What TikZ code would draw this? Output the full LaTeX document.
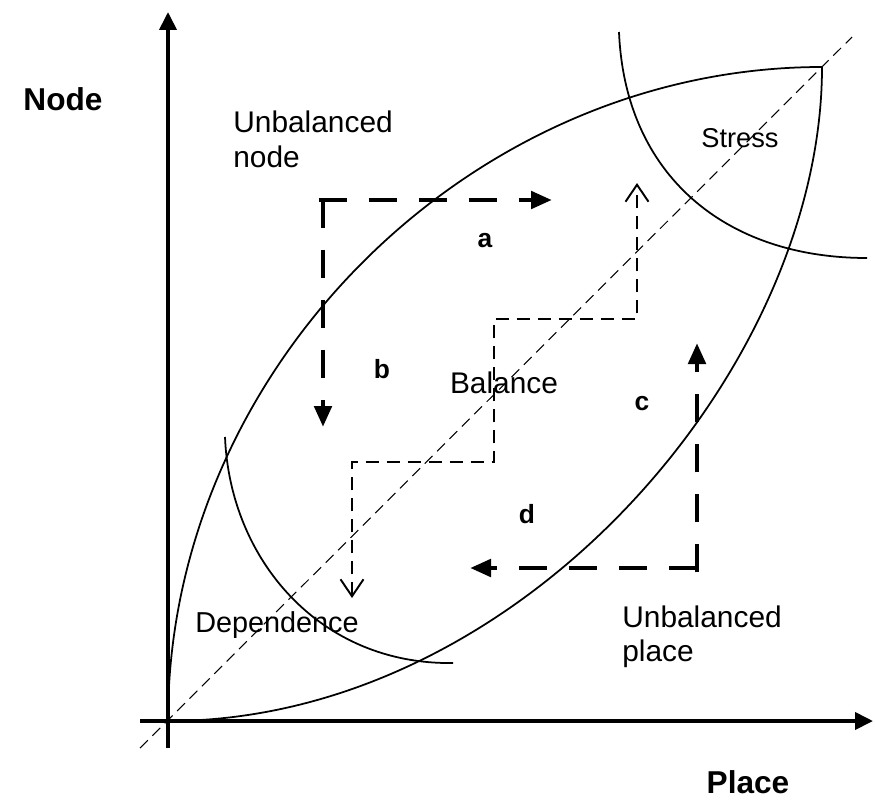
\documentclass[tikz,border=0pt]{standalone}
\usepackage{fontspec}
\setmainfont{Liberation Sans}
\usetikzlibrary{arrows.meta}
\tikzset{
  axisline/.style={line width=2.2pt, -{Triangle[length=0.36cm, width=0.34cm]}},
  zoneline/.style={line width=1pt},
  diagline/.style={line width=0.6pt, dash pattern=on 0.22cm off 0.13cm},
  %% thick dashed moves a-d
  flowarrow/.style={line width=2.8pt, dash pattern=on 0.56cm off 0.44cm,
    -{Triangle[length=0.42cm, width=0.34cm]}},
  %% thin stepped path through the balance zone
  stepline/.style={line width=1.1pt, dash pattern=on 0.26cm off 0.16cm,
    {Straight Barb[length=0.34cm, width=0.46cm]}-{Straight Barb[length=0.34cm, width=0.46cm]}},
  regionlbl/.style={font=\fontsize{17}{19.8}\selectfont, align=left, inner sep=0pt},
  axislbl/.style={font=\fontsize{18}{21}\selectfont\bfseries, inner sep=0pt},
  movelbl/.style={font=\fontsize{15}{17}\selectfont\bfseries, inner sep=0pt},
}

\begin{document}
\begin{tikzpicture}[x=0.02cm, y=-0.02cm]
\useasboundingbox (0,0) rectangle (875,801);

%% Axes
\coordinate (O)    at (168,721);
\coordinate (tip)  at (822,67);
\draw[axisline] (168,748) -- (168,12);
\draw[axisline] (140,721) -- (873,721);
\node[axislbl] (nodeAx)  at (63,99) {Node};
\node[axislbl, anchor=base] (placeAx) at (748,793) {Place};

%% Diagonal
\draw[diagline] (140,748) -- (852,37);

%% Leaf shaped zone
\draw[zoneline] (O) .. controls (168,369) and (470,67) .. (tip);
\draw[zoneline] (O) .. controls (520,721) and (822,369) .. (tip);

%% Stress and dependence arcs
\draw[zoneline] (619,32) .. controls (625,175) and (725,258) .. (867,258);
\draw[zoneline] (225,437) .. controls (230,560) and (320,665) .. (453,663);

%% Stepped path
\coordinate (stepLow)  at (352,598);
\coordinate (stepHigh) at (637,183);
\draw[stepline] (stepLow) -- (352,462) -- (494,462) -- (494,319) -- (637,319) -- (stepHigh);

%% Moves a, b
\coordinate (cornerAB) at (323,200);
\coordinate (tipA) at (552,200);
\coordinate (tipB) at (323,427);
\draw[flowarrow] ([xshift=-2.5]cornerAB) -- (tipA);
\draw[flowarrow] (cornerAB) -- (tipB);

%% Moves c, d
\coordinate (cornerCD) at (697,568);
\coordinate (tipC) at (697,343);
\coordinate (tipD) at (470,568);
\draw[flowarrow] ([yshift=-2.5]cornerCD) -- (tipC);
\draw[flowarrow] (cornerCD) -- (tipD);

%% Labels
\node[regionlbl, anchor=north west] (unbNode)  at (233,111) {Unbalanced\\node};
\node[regionlbl, anchor=north west] (unbPlace) at (622,605) {Unbalanced\\place};
\node[regionlbl, anchor=base] (balance) at (504,393) {Balance};
\node[regionlbl, anchor=base, font=\fontsize{15.5}{18}\selectfont] (stress) at (740,147) {Stress};
\node[regionlbl, anchor=base, font=\fontsize{16.4}{19}\selectfont] (depend) at (277,632) {Dependence};
\node[movelbl, anchor=base] (mA) at (485,247) {a};
\node[movelbl, anchor=base] (mB) at (382,378) {b};
\node[movelbl, anchor=base] (mC) at (642,410) {c};
\node[movelbl, anchor=base] (mD) at (527,523) {d};

\end{tikzpicture}
\end{document}
